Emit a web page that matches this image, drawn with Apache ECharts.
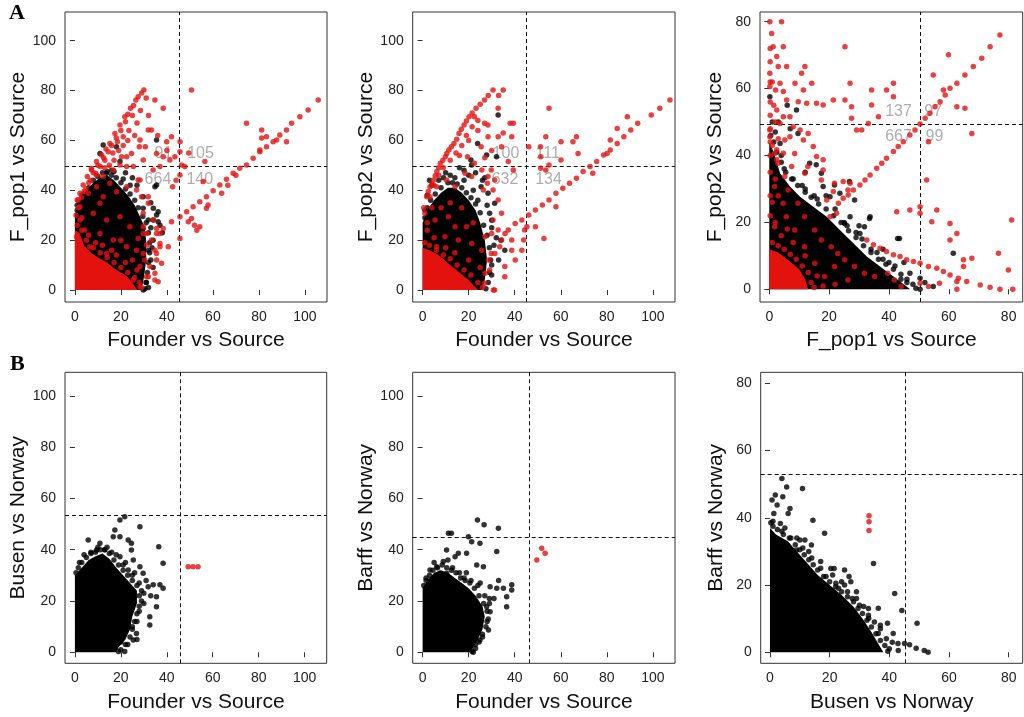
<!DOCTYPE html>
<html><head><meta charset="utf-8">
<script src="https://cdn.jsdelivr.net/npm/echarts@6/dist/echarts.min.js"></script>
<style>html,body{margin:0;padding:0;background:#fff}#c{width:1024px;height:717px}</style>
</head><body><div id="c"></div>
<script>
// ---------- tick labels ----------
const ticks100 = [0, 20, 40, 60, 80, 100];
const ticks80 = [0, 20, 40, 60, 80];

// ---------- axis titles ----------
const xNames = ['Founder vs Source', 'Founder vs Source', 'F_pop1 vs Source', 'Founder vs Source', 'Founder vs Source', 'Busen vs Norway'];
const yNames = ['F_pop1 vs Source', 'F_pop2 vs Source', 'F_pop2 vs Source', 'Busen vs Norway', 'Barff vs Norway', 'Barff vs Norway'];

// ---------- thresholds (x cut, y cut) ----------
const a1Cut = [45.3, 49.5];
const a2Cut = [45.0, 49.5];
const a3Cut = [50.5, 49.4];
const b1Cut = [46.0, 53.3];
const b2Cut = [46.2, 44.9];
const b3Cut = [45.3, 52.9];

// ---------- quadrant counts ----------
const a1Counts = ['91', '105', '664', '140'];
const a1CountAt = [[38.5, 54.6], [54.6, 54.6], [36.1, 44.1], [54.3, 44.1]];
const a2Counts = ['100', '111', '632', '134'];
const a2CountAt = [[36.2, 54.6], [54.3, 54.6], [35.8, 44.1], [54.7, 44.1]];
const a3Counts = ['137', '97', '667', '99'];
const a3CountAt = [[43.2, 53.1], [54.8, 53.1], [43.2, 45.6], [55.2, 45.6]];

// ---------- A1 ----------
const a1Core = [[0,0],[0,30],[2,36],[5,40],[8,43],[11,45],[14,46],[17,44],[20,41],[23,38],[26,34],[28,30],[30,26],[31,20],[31,12],[30,5],[29,0]];
const a1RedCore = [[0,0],[0,24],[2,23],[4,18],[7,15],[10,13],[14,11],[18,8],[22,6],[25,3],[27,0]];
const a1Black = [[36.2,31.4],[34.1,28.1],[29.7,37.4],[34.8,41.4],[18.1,57.5],[10.9,54.8],[29.7,0],[19.6,51.5],[11.6,44.1],[13.8,46.8],[29.7,32.8],[34.1,32.8],[35.5,30.1],[36.2,27.4],[29.7,24.7],[31.9,28.1],[35.5,60.2],[35.5,42.1],[12.3,58.2],[16,48],[22,47],[25,45],[27,42],[33,35],[37,26],[38,23],[32,16],[33,12],[31,3],[3,38],[1,34],
[1,32],[2,35],[4,38.5],[6,41],[8,44],[10,45.5],[12,47],[14,47.5],[16,46],[18,45],[20,43],[22,40.5],[24,38.5],[26,36],[27.5,33],[29.5,29.5],[31,27],[32,23],[32.5,19],[32.5,15],[32,11],[31.5,7],[31,3],[30.5,0.5],[24,42],[21,44.5],[17,47.5],[9,42],[33,25],[34,20],[33.5,17],[34,9],[32,1]];
const a1Red = [[1.0,36.1],[2.2,38.8],[3.6,42.1],[5.4,45.5],[7.2,48.8],[9.4,51.5],[11.6,54.2],[13.5,56.6],[15.2,58.8],[17.4,62.8],[19.6,66.2],[21.7,69.5],[24.2,72.9],[26.5,76.2],[30,80.2],
[4.8,40.5],[6.8,44],[9,46.8],[11,49.5],[13,52],[16.5,55],[18.5,59.5],[21,61.5],[23.5,64],[26,62],[28,57.5],
[0.5,30],[1.5,33],[2.8,37],[4,39.5],[6,43],[8,47],[10,50],[12.5,53],[14.5,55.5],[16,58],[18,61],[20,64],[22,67.5],[23,70.5],[25.5,74],[27.5,77.5],[29,79],[31,77],[28.5,72],[25,70],[23,60],[19,56],[17,52],[15,50],[13,49],[21,58],[27,67],[32,70],[36,62],[40,56],[44,44],
[50.7,80.2],[34.8,76.2],[38.4,72.9],[33.3,64.2],[31.9,64.2],[42,61.5],[45.7,59.5],[45.7,55.5],[39.9,59.5],[30.6,57.5],[28.3,60.2],[24.6,54.8],[22.5,53.5],[20.3,53.5],[25.4,49.5],[29.7,52.1],[35.5,54.8],[38.4,53.5],[41.3,52.1],[43.5,53.5],[46.4,50.1],[47.8,49.5],[45.7,46.1],[42.5,41.4],[31.9,37.4],[28.3,44.1],[37,49.5],[34,48.1],[56.5,51.5],[49.5,55],[55.8,43.5],
[74.6,66.9],[81.2,64.2],[81.2,61],[83.3,61.5],[87.7,60.2],[92,59.5],[80.4,56.2],
[35.5,22.7],[38.4,24.7],[42,27.4],[45.7,29.4],[48.6,31.4],[51.4,33.4],[54.3,35.4],[57.2,37.4],[60.1,39.8],[63,42.1],[65.9,44.4],[68.8,46.8],[71.7,48.8],[74.6,50.1],[77.5,52.8],[80.4,55.5],[83.3,57.5],[86.2,59.5],[89.1,62.2],[92,64.2],[94.2,66.9],[97.8,69.5],[101.4,72.2],[105.8,76.2],
[29.7,25.4],[33.3,20.1],[31.2,18.1],[35.5,14.7],[37,17.4],[40.6,17.4],[45.7,20.7],[49.3,27.4],[50.7,28.7],[54.3,25.4],[57.2,32.8],[57.9,34.1],[63.8,38.8],[52,26],[53,24],[66.5,42],[70,46],
[29.7,30.8],[31.2,22.7],[29.7,14.7],[32.6,9.4],[31.2,5.3],[34.8,4.0],[28.3,1.3],[25.4,4.0],
[9.4,41.4],[5.8,38.8],[12.3,37.4],[15.2,42.8],[18.1,39.4],[22.5,41.4],[26.8,40.1],[2.2,33.4],[8,30.8],[13.8,28.1],[19.6,29.4],[23.9,25.4],[4.3,24.1],[10.9,22.7],[16.7,20.1],[22.5,17.4],[26.8,16],[6.5,17.4],[2.2,28.1],[0.7,21.4],[13.8,14.7],[27.5,20.7],[29.7,22.7],[30.4,12],[28.3,9.4],[31.9,5.3],[10.9,34.8],[1.4,36.1],[7.2,48.1],[9.4,46.1],[12.3,45.5],[16.7,48.1],[19.6,50.1],[22.5,49.5],[27.5,44.1],[29,37.4],[31.9,34.8],[34.1,28.1],[35.5,24.7],[37,22.7],[37,18.7],[34.8,16],[35.5,12],[37.7,10.7],[34.8,6.7],[36.2,3.3],
[1,26],[3,24],[5,20],[8,17],[11,15],[14,13],[17,11],[20,9],[23,7],[26,5],[28,3],[29,1],[12,18],[18,14],[22,11],[16,16],[6,22],[9,19],[3,29],[20,20],[25,12],[27,8]];

// ---------- A2 ----------
const a2Core = [[0,0],[0,27],[2,32],[5,36],[8,39],[11,41],[14,41],[17,39],[20,36],[23,32],[25,27],[27,20],[28,12],[27,4],[26,0]];
const a2RedCore = [[0,0],[0,17],[3,16],[7,14],[12,10],[16,7],[20,4],[23,1],[24,0]];
const a2Black = [[32.8,70.2],[23.9,58.8],[32.1,53.5],[21,52.1],[35.7,16],[29.1,30.8],[31.3,34.8],[25.4,41.4],[28.4,38.8],[1,32],[2,38],[4,42],[3,44],[7,44],[10,47],[14,45],[16,49],[18,44],[26,44],[30,25],[32,21],[33,12],[30,6],[28,34],[34,20],[27.8,54.2],[21.3,50.1],[18,48],[20,46],
[1,29],[2,33],[3.5,36],[5.5,38.5],[8,41],[11,43],[13,43],[15,42.5],[17,41],[19,39],[21,37],[23,34.5],[25,31],[26.5,26],[28,22],[29,17],[29.5,12],[29,7],[28.5,3],[27.5,0.5],[22,40],[24,36],[12,46],[9,45],[30,28],[31,18],[30,10],[27,45],[23,47]];
const a2Red = [[1.8,37.4],[3.2,41.4],[4.7,44.1],[6.2,47.5],[7.7,50.8],[9.9,53.5],[11.4,56.2],[13.6,58.8],[15.8,62.8],[18,66.2],[20.2,69.5],[23.2,72.9],[26.9,76.2],[30.6,80.2],[35,80.2],
[5,42],[7,46],[9,49],[12,52],[14.5,55],[17,58],[19,62],[21.5,65.5],[24,68],
[0.5,33],[2.5,39.5],[4,42.5],[5.5,45.8],[7,49],[8.8,52],[10.5,54.8],[12.5,57.5],[14.8,60.5],[16.8,64.5],[19,67.8],[21.5,71],[25,74.5],[28.5,78],[33,78],[24,64],[20,60],[16,54],[27,53],[30,56],[35,63],
[32.8,72.9],[38,66.9],[39.4,66.9],[38.7,61.5],[32.8,61.5],[34.3,57.5],[28.4,61.5],[28.4,66.2],[25.4,57.5],[22.5,69.5],[26.9,66.9],[39.4,48.1],[37.2,51.5],[19.5,53.5],[22.5,50.8],[29.8,48.1],[28.4,45.5],[31.3,44.1],[30.6,40.1],[32.8,36.1],[34.3,30.8],[30.6,28.1],[32.8,24.1],[33.5,17.4],[29.8,14.7],[35.7,5.3],[31.3,0],[29.1,8],[26.9,2.7],
[46.1,57.5],[51.2,57.5],[53.5,61.5],[54.9,72.9],[51.3,53.5],[51.3,48.8],[53.5,48.1],[54.9,50.1],[60.1,59.5],[60.1,52.1],[65.3,59.5],[66.8,61.5],[67.5,54.8],[45.3,25.4],[44.3,24.1],[43.9,20.1],[49,25.4],[52.7,20.7],[43.1,16],[38.7,16],[40.2,12],[35.7,9.4],[37.2,24.1],[34.3,20.1],
[40.2,26.7],[43.1,28.1],[46.1,30.1],[49,32.1],[52,34.1],[54.9,36.1],[57.9,38.8],[60.9,40.8],[63.8,42.8],[66.8,44.8],[69.7,47.5],[72.7,49.5],[75.6,51.5],[78.6,54.2],[81.5,56.2],[84.5,58.8],[87.4,61.5],[90.4,64.2],[93.4,66.9],[99.3,70.2],[103,72.9],[107.4,76.2],[57.9,33.4],[73.9,46.8],[81.5,60.2],[88.9,69.5],[80.1,54.8],[84.5,64.8],
[3.2,37.4],[6.1,41.4],[10.4,44.1],[14.1,41.4],[18.4,46.8],[21.3,45.5],[25.7,48.1],[28.1,42.8],[26.4,40.1],[1,30.8],[5.4,28.1],[11.2,29.4],[14.1,25.4],[19.1,25.4],[9.7,21.4],[15.5,20.1],[21.3,18.7],[25.7,16],[6.1,17.4],[27.1,21.4],[30,22.7],[31.4,14.7],[28.6,12],[27.1,6.7],[30.7,0],[35.8,22.7],[38.7,20.1],[2,24],[8,33],[17,33],
[1,19],[3,18],[6,16],[9,14],[12,12.5],[15,10],[18,8],[21,6],[24,3],[26,1],[10,17],[14,15],[5,21],[20,12],[25,9],[2,27],[22,27],[12,35],[4,33]];

// ---------- A3 ----------
const a3Core = [[0,0],[0,44],[1.5,41],[2.5,38],[3.6,34.7],[6.9,30.7],[10.3,27.7],[14.7,24.7],[19.2,21.7],[23.6,17.7],[28.1,13.8],[32.6,9.8],[37,6.8],[41.5,3.8],[45.9,0.8],[47,0]];
const a3RedCore = [[0,0],[0,12],[3,11],[6,9],[10,6],[12,3],[13,0]];
const a3Black = [[3.6,43.6],[9.1,53.6],[18,30.7],[20.3,27.7],[23.6,28.7],[33.7,21.7],[27,21.7],[30.3,16.7],[43.5,15.2],[47,4.8],[50.4,3.3],[54.8,0.8],[61.5,10.8],[50.4,0],[0.2,57.6],
[5,36],[8,33],[12,30],[16,27],[22,24],[25,20],[29,17],[34,12],[38,9],[42,7],[44,3],[2,47],[1,50],[6,55],[4,40],[11,31],[15,28],[26,19],[31,15],[36,11],[40,8],[46,2],
[9.6,46.6],[13.5,37.7],[15.7,37.2],[17.4,34.7],[21.8,31.2],[26.8,32.2],[28.5,26.7],[33.5,21.2],[31.8,18.7],[25.2,19.7],[42.9,15.2],
[0.5,46],[1.5,44],[2.5,41],[4,38],[5.5,35],[7.5,33],[9.5,31],[12,29],[14,27.5],[16.5,25.5],[19,24],[21.5,22],[24,20],[26.5,17.5],[29,15.5],[31.5,13],[34,11],[36.5,9],[39,7.5],[41.5,6],[44,4.5],[46,3],[48,1.5],[49,0.3],[3,50],[7,48],[12,35],[19,28],[30,19],[38,12],[45,8],[52,2]];
const a3Red = [[0.2,80],[4.1,80],[0.8,76.5],[1.3,72.5],[4.7,72.5],[2.5,69.6],[3,66.6],[5.8,66.6],[11.9,66.6],[10.8,64.6],[0.2,64.6],[3.6,61.6],[8.6,61.6],[14.2,61.6],[0.2,60.6],[2.1,59.6],[4.7,59.1],[11.4,59.6],[5.8,56.6],[9.7,56.1],[12.5,55.6],[15.8,55.6],[18,55.1],[2.5,53.6],[6.9,51.6],[4.7,51.6],[8,48.6],[3.6,49.6],[10.3,47.6],[0.2,47.6],[13,46.6],[0.2,45.6],[6.9,45.6],[11.4,44.6],[14.7,42.7],[2.5,41.7],[4.7,40.7],[15.8,39.7],[18,38.7],[18,35.7],[11.9,34.7],[7.5,36.7],[2.5,38.7],
[21.4,56.6],[25.3,56.6],[25.3,72.5],[27,61.6],[27.5,54.6],[27.5,51.1],[29.2,47.6],[30.9,47.6],[33.1,49.6],[34.2,59.6],[34.2,55.1],[36.5,51.6],[39.2,59.6],[41.5,61.6],[41.5,57.6],[21.4,29.2],[24.7,32.2],[27,31.7],[19.2,26.7],
[23.1,25.7],[24.7,27.2],[26.4,28.2],[28.1,29.7],[30.3,31.2],[32,32.7],[33.7,34.2],[35.9,36.2],[37.6,37.7],[39.2,39.2],[41.5,41.2],[43.1,42.7],[44.8,44.1],[47,46.1],[48.7,47.6],[50.4,49.4],[52.1,51.1],[53.7,52.6],[55.4,54.6],[57.1,56.1],[58.8,58.1],[60.4,60.1],[62.7,61.6],[65.4,64.1],[68.2,66.6],[71,69.1],[73.8,72.5],[77.1,76],
[54.8,64.1],[58.2,59.6],[62.7,54.6],[65.4,54.1],[67.7,46.6],[59.9,70.1],[53.2,44.1],[52.6,32.7],[50.4,24.7],[50.4,22.7],[47,23.7],[42.6,23.2],[56,23.7],[54.3,20.2],[60.4,19.7],[60.4,14.7],[62.7,16.7],[81,20.7],
[32.6,14.7],[34.8,13.3],[37,12.3],[39.2,11.3],[41.5,10.3],[43.7,9.8],[45.9,8.8],[48.2,8.3],[50.4,7.8],[53.2,6.8],[56,6.3],[58.2,5.3],[60.4,4.3],[63.2,3.3],[66,2.3],[70.5,1.3],[73.8,0.6],[77.1,0],[81.4,0],[79.9,5.8],[76.6,10.8],[67.7,9.3],[64.9,8.8],[64.9,6.8],[62.7,2.3],[56.9,1.8],[53.2,0.8],[50.4,1.8],[62.7,0],[20.3,21.7],[22.5,22.7],
[1.8,40.6],[2.9,37.7],[5.2,33.7],[1.8,30.7],[6.3,29.7],[4.6,25.7],[9.6,25.7],[5.7,21.7],[11.8,21.7],[1.8,18.7],[8.5,17.7],[15.2,17.7],[17.4,14.7],[11.8,12.7],[20.7,12.7],[22.9,10.7],[25.2,8.8],[28.5,6.8],[31.8,4.8],[35.2,3.8],[39.6,4.8],[41.8,2.8],[44.1,0.8],[18.5,3.8],[21.8,6.8],[26.3,2.8],[15.2,7.8],[8.5,40.6],[5.2,44.6],[12.9,36.7],[17.4,32.7],[21.8,31.7],[26.3,29.7],[0.3,35],[0.3,28],[0.3,22],[0.3,52],[0.3,56],
[1,14],[3,13],[5,12],[7,10.5],[9,9],[11,7],[13,5],[14,2],[15,0.5],[4,16],[8,14],[12,10],[2,20],[6,18],[16,4],[18,1],[22,1.5],[10,3],[0.3,40],[0.3,44],[0.3,48],[0.3,62],[0.3,68],[0.3,72],[1,62],[1.5,55],[2,50],[3,45],[1,43],[2,33],[1,26],[3,28]];

// ---------- B1 ----------
const b1Core = [[0,0],[0,30],[3,33],[6,36],[9,37.5],[12,38.5],[15,36.5],[18,33],[21,30],[24,27],[27,24],[27,19],[25,14],[24,9],[22,5],[19,2],[18,0]];
const b1Black = [[21.7,52.9],[19.6,51.6],[17.4,47.7],[5.8,43.8],[16.7,45.1],[19.6,45.1],[23.2,43.8],[24.6,42.5],[28.3,49],[24.6,39.9],[25.4,36],[28.3,33.4],[29.7,30.8],[31.9,25.6],[34.1,26.3],[37,26.3],[38.4,25],[36.5,41.2],[38.4,34.7],[35.5,21.7],[35.5,17.8],[32.6,13.9],[32.6,10.6],[26.8,7.3],[25.4,4.8],[21.7,0.3],[15.2,3.5],[23.2,32.1],[19.6,37.3],[10.9,42.5],[9.4,39.9],[2,35],[4,38],[7,39],[13,40],[16,39],[21,34],[25,30],[28,27],[30,23],[29,20],[28,16],[27,12],[25,10],[23,3],[20,4],[31,28],[33,22],
[0.5,31],[1.5,33],[3,35],[5,37],[7,38.5],[9,39],[11,40],[13,40],[15,38.5],[17,36],[19,34],[21,32],[23,30],[25,28],[27,26],[28,22],[28,18],[27,15],[26,12],[25,9],[24,6],[22,3],[20,1],[19,0.3],[14,41],[10,41],[18,38],[22,35],[26,31],[29,24],[30,19],[27,5]];
const b1Red = [[49.3,33.4],[51.4,33.4],[53.6,33.4]];

// ---------- B2 ----------
const b2Core = [[0,0],[0,25],[2,28],[5,31],[8,32],[11,31],[14,29],[17,27],[20,25],[23,22],[26,18],[27,14],[26,9],[24,5],[22,2],[21,0]];
const b2Black = [[23.8,51.6],[26.7,49.7],[32.9,48.4],[11.2,46.4],[12.5,46.4],[19.9,45.1],[21.3,43.1],[19.1,38.6],[15.5,38.6],[24.9,42.5],[32.2,39.3],[10.4,39.9],[14.1,37.3],[23.5,34],[26.4,33.4],[29.3,25.6],[32.2,25],[35.1,25],[38.7,26.3],[38.7,24.3],[36.5,21.7],[36.5,17.8],[27.8,17.8],[29.3,15.8],[28.6,8.7],[24.9,4.8],[22,0],[7.5,30.8],[6.1,33.4],[10.4,30.8],[3.2,32.1],[9,35.4],[1.5,29],[13,33],[16,31],[18,29],[21,28],[24,26],[27,22],[29,19],[28,12],[26,6],[23,3],[31,21],[33,28],
[0.5,26],[1.5,28],[3,30],[4.5,32],[6.5,33],[8.5,34],[10.5,33],[12.5,32],[14.5,31],[16.5,29],[18.5,28],[20.5,27],[22.5,25],[24.5,22],[26.5,19],[28,16],[28.5,13],[27.5,10],[26,7],[24.5,4],[23,1.5],[21.5,0.3],[5,35],[11,36],[19,31],[25,27],[29,21]];
const b2Red = [[49.6,36],[51.7,40.6],[53.2,38.6]];

// ---------- B3 ----------
const b3Core = [[0,0],[0,37],[2,35],[6,33],[9,30],[12,27],[16,23],[20,20],[24,17],[28,13.5],[31,10],[34,6],[36,3],[38,0]];
const b3Black = [[4,51.7],[5.6,49.2],[10.9,48.7],[4.3,46.3],[0.7,45.3],[1.8,46.8],[2.4,43.8],[1.3,41.3],[6.7,42.8],[6.1,41.3],[14.4,39.3],[18.3,35.4],[3.5,38.3],[10,33.4],[11.7,33.4],[13.9,31.9],[8.9,30.4],[20.4,24.9],[21.5,24.9],[25,24.5],[26.5,22.5],[27.1,21],[34.7,26.4],[18.8,22.5],[22.1,20.5],[27.6,16],[31.4,13.6],[36.3,13.1],[41.8,17.5],[44.2,12.4],[39.4,8.6],[41.3,5.6],[45.1,2.6],[46.8,2.2],[49,1.2],[51.7,0.5],[53,0],[49.3,8.6],[42.9,2.6],[36.3,5.6],[33.1,10.1],[1,39],[4,36],[7,34],[11,31],[14,28],[17,25],[23,19],[26,18],[30,14],[33,11],[37,7],[39,4],[40,1],[35,9],[29,18],[24,21],
[0.3,38.5],[1,37.5],[2.5,36.5],[4.5,35],[6.5,34],[8.5,32],[10,30.5],[11.5,29],[13,27.5],[14.5,26],[16,24.5],[18,22.5],[20,21],[22,19.5],[24,18],[26,16.5],[28,15],[29.5,13],[31,11.5],[32.5,9.5],[34,7.5],[35.5,5.5],[37,3.5],[38.5,2],[39.5,0.3],[5,37],[9,34],[13,30],[17,27],[21,23],[25,20],[29,16],[33,13],[37,8],[41,3],[43,0.5]];
const b3Red = [[33.2,40.6],[33.2,38.8],[33.2,36.2]];

// ---------- rendering ----------
const RED = '#e3120f', BLACK = '#000000', FONT = '"Liberation Sans", Arial, sans-serif';
const panels = [
  {g:{left:65,top:12,width:262,height:290}, x:[-4.3,109.6], y:[-4.8,111.5], xt:ticks100, yt:ticks100, yGap:30, core:a1Core, redCore:a1RedCore, black:a1Black, red:a1Red, cut:a1Cut, counts:a1Counts, countAt:a1CountAt},
  {g:{left:412.7,top:12,width:262.3,height:290}, x:[-4.3,109.6], y:[-4.8,111.5], xt:ticks100, yt:ticks100, yGap:31, core:a2Core, redCore:a2RedCore, black:a2Black, red:a2Red, cut:a2Cut, counts:a2Counts, countAt:a2CountAt},
  {g:{left:760,top:12,width:262.7,height:290}, x:[-3.1,84.7], y:[-3.8,82.9], xt:ticks80, yt:ticks80, yGap:32, core:a3Core, redCore:a3RedCore, black:a3Black, red:a3Red, cut:a3Cut, counts:a3Counts, countAt:a3CountAt},
  {g:{left:65,top:372.3,width:261.7,height:291}, x:[-4.3,109.6], y:[-4.3,109.2], xt:ticks100, yt:ticks100, yGap:30, core:b1Core, redCore:null, black:b1Black, red:b1Red, cut:b1Cut, counts:null},
  {g:{left:412.7,top:372.3,width:262.3,height:291}, x:[-4.3,109.6], y:[-4.3,109.2], xt:ticks100, yt:ticks100, yGap:31, core:b2Core, redCore:null, black:b2Black, red:b2Red, cut:b2Cut, counts:null},
  {g:{left:760.7,top:372.3,width:262,height:291}, x:[-3.1,84.7], y:[-3.3,83.3], xt:ticks80, yt:ticks80, yGap:32, core:b3Core, redCore:null, black:b3Black, red:b3Red, cut:b3Cut, counts:null}
];

const grid = [], xAxis = [], yAxis = [], series = [];
function polySeries(i, pts, color, z) {
  return {type:'custom', xAxisIndex:i, yAxisIndex:i, data:pts, z:z, silent:true, clip:true,
    renderItem:function(params, api){
      if (params.dataIndex !== 0) return null;
      return {type:'polygon', shape:{points:pts.map(function(p){return api.coord(p);})}, style:{fill:color}};
    }};
}
panels.forEach(function(p, i){
  grid.push(Object.assign({show:true, borderColor:'#333', borderWidth:1, backgroundColor:'transparent'}, p.g));
  const axisCommon = {type:'value', nameLocation:'middle',
    nameTextStyle:{fontSize:21, color:'#111', fontFamily:FONT},
    axisLine:{show:false}, splitLine:{show:false}};
  xAxis.push(Object.assign({}, axisCommon, {gridIndex:i, min:p.x[0], max:p.x[1], name:xNames[i], nameGap:28,
    axisTick:{show:true, length:5, customValues:p.xt, lineStyle:{color:'#333'}},
    axisLabel:{customValues:p.xt, fontSize:14, color:'#222', margin:8, fontFamily:FONT}}));
  yAxis.push(Object.assign({}, axisCommon, {gridIndex:i, min:p.y[0], max:p.y[1], name:yNames[i], nameGap:p.yGap + 2, nameRotate:90,
    axisTick:{show:true, length:5, customValues:p.yt, lineStyle:{color:'#333'}},
    axisLabel:{customValues:p.yt, fontSize:14, color:'#222', margin:9, fontFamily:FONT}}));
  const labelData = p.counts ? p.counts.map(function(t, k){ return {name:t, value:p.countAt[k]}; }) : [];
  series.push({type:'scatter', xAxisIndex:i, yAxisIndex:i, z:1, silent:true, symbolSize:1,
    itemStyle:{color:'rgba(0,0,0,0)'}, data:labelData,
    label:{show:true, position:'inside', formatter:'{b}', fontSize:16, color:'#999', fontFamily:FONT},
    markLine:{silent:true, symbol:'none', label:{show:false}, animation:false,
      lineStyle:{type:[4,3], color:'#111', width:1},
      data:[{xAxis:p.cut[0]}, {yAxis:p.cut[1]}]}});
  series.push(polySeries(i, p.core, BLACK, 2));
  series.push({type:'scatter', xAxisIndex:i, yAxisIndex:i, z:3, silent:true, symbolSize:5.5, itemStyle:{color:BLACK}, data:p.black});
  if (p.redCore) series.push(polySeries(i, p.redCore, RED, 4));
  series.push({type:'scatter', xAxisIndex:i, yAxisIndex:i, z:5, silent:true, symbolSize:5.5, itemStyle:{color:RED}, data:p.red});
});

const chart = echarts.init(document.getElementById('c'), null, {renderer:'canvas'});
chart.setOption({
  animation:false, backgroundColor:'#fff',
  title:[
    {text:'A', left:9, top:2, padding:0, textStyle:{fontFamily:'"Liberation Serif", serif', fontWeight:'bold', fontSize:22, color:'#000'}},
    {text:'B', left:10, top:353, padding:0, textStyle:{fontFamily:'"Liberation Serif", serif', fontWeight:'bold', fontSize:22, color:'#000'}}
  ],
  grid:grid, xAxis:xAxis, yAxis:yAxis, series:series
});
</script>
</body></html>
